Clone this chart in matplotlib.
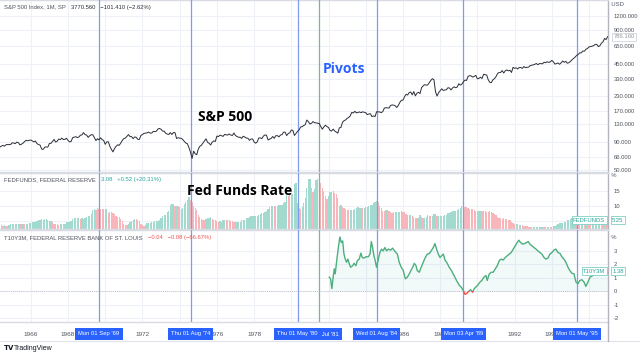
import numpy as np
import matplotlib
matplotlib.use("Agg")
import matplotlib.pyplot as plt
from matplotlib.transforms import blended_transform_factory
from matplotlib.patches import Rectangle

# ---------------- data ----------------
spx_start = 1964.0  # monthly, Jan 1964 .. Jan 1997
spx = [
    77.0, 77.8, 78.98, 79.46, 80.37, 81.69, 83.18, 81.83, 84.18, 84.86, 84.42, 84.75,
    87.56, 87.43, 86.16, 89.11, 87.97, 84.12, 85.25, 87.17, 89.96, 92.42, 91.61, 92.43,
    92.88, 91.22, 89.23, 91.06, 86.13, 84.74, 83.60, 77.10, 76.56, 80.20, 80.45, 80.33,
    86.61, 86.78, 90.20, 94.01, 89.08, 90.64, 94.75, 93.64, 96.71, 93.90, 94.00, 96.47,
    92.24, 89.36, 90.20, 97.59, 98.68, 99.58, 97.74, 98.86, 102.67, 103.41, 108.37, 103.86,
    103.01, 98.13, 101.51, 103.69, 103.46, 97.71, 91.83, 95.51, 93.12, 97.24, 93.81, 92.06,
    85.02, 89.50, 89.63, 81.52, 76.55, 72.72, 78.05, 81.52, 84.21, 83.25, 87.20, 92.15,
    95.88, 96.75, 100.31, 103.95, 99.63, 99.70, 95.58, 99.03, 98.34, 94.23, 93.99, 102.09,
    103.94, 106.57, 107.20, 107.67, 109.53, 107.14, 107.39, 111.09, 110.55, 111.58, 116.67, 118.05,
    116.03, 111.68, 111.52, 106.97, 104.95, 104.26, 108.22, 104.25, 108.43, 108.29, 95.96, 97.55,
    96.57, 96.22, 93.98, 90.31, 87.28, 86.00, 79.31, 72.15, 63.54, 73.90, 69.97, 68.56,
    76.98, 81.59, 83.36, 87.30, 91.15, 95.19, 88.75, 86.88, 83.87, 89.04, 91.24, 90.19,
    100.86, 99.71, 102.77, 101.64, 100.18, 104.28, 103.44, 102.91, 105.24, 102.90, 102.10, 107.46,
    102.03, 99.82, 98.42, 98.44, 96.12, 100.48, 98.85, 96.77, 96.53, 92.34, 94.83, 95.10,
    89.25, 87.04, 89.21, 96.83, 97.24, 95.53, 100.68, 103.29, 102.54, 93.15, 94.70, 96.11,
    99.93, 96.28, 101.59, 101.76, 99.08, 102.91, 103.81, 109.32, 109.32, 101.82, 106.16, 107.94,
    114.16, 113.66, 102.09, 106.29, 111.24, 114.24, 121.67, 122.38, 125.46, 127.47, 140.52, 135.76,
    129.55, 131.27, 136.00, 132.81, 132.59, 131.21, 130.92, 122.79, 116.18, 121.89, 126.35, 122.55,
    120.40, 113.11, 111.96, 116.44, 111.88, 109.61, 107.09, 119.51, 120.42, 133.71, 138.54, 140.64,
    145.30, 148.06, 152.96, 164.42, 162.39, 168.11, 162.56, 164.40, 166.07, 163.55, 166.40, 164.93,
    163.41, 157.06, 159.18, 160.05, 150.55, 153.18, 150.66, 166.68, 166.10, 166.09, 163.58, 167.24,
    179.63, 181.18, 180.66, 179.83, 189.55, 191.85, 190.92, 188.63, 182.08, 189.82, 202.17, 211.28,
    211.78, 226.92, 238.90, 235.52, 247.35, 250.84, 236.12, 252.93, 231.32, 243.98, 249.22, 242.17,
    274.08, 284.20, 291.70, 288.36, 290.10, 304.00, 318.66, 329.80, 321.83, 251.79, 230.30, 247.08,
    257.07, 267.82, 258.89, 261.33, 262.16, 273.50, 272.02, 261.52, 271.91, 278.97, 273.70, 277.72,
    297.47, 288.86, 294.87, 309.64, 320.52, 317.98, 346.08, 351.45, 349.15, 340.36, 345.99, 353.40,
    329.08, 331.89, 339.94, 330.80, 361.23, 358.02, 356.15, 322.56, 306.05, 304.00, 322.22, 330.22,
    343.93, 367.07, 375.22, 375.35, 389.83, 371.16, 387.81, 395.43, 387.86, 392.46, 375.22, 417.09,
    408.79, 412.70, 403.69, 414.95, 415.35, 408.14, 424.21, 414.03, 417.80, 418.68, 431.35, 435.71,
    438.78, 443.38, 451.67, 440.19, 450.19, 450.53, 448.13, 463.56, 458.93, 467.83, 461.79, 466.45,
    481.61, 467.14, 445.77, 450.91, 456.50, 444.27, 458.26, 475.49, 462.69, 472.35, 453.69, 459.27,
    470.42, 487.39, 500.71, 514.71, 533.40, 544.75, 562.06, 561.88, 584.41, 581.50, 605.37, 615.93,
    636.02, 640.43, 645.50, 654.17, 669.12, 670.63, 639.95, 651.99, 687.33, 705.27, 757.02, 740.74,
    786.16,
]

ff_start = 1964.0  # monthly effective fed funds, Jan 1964 .. Jan 1997
fedfunds = [
    3.22, 3.30, 3.37, 3.45, 3.37, 3.50, 3.42, 3.50, 3.45, 3.36, 3.52, 3.85,
    3.90, 3.98, 4.04, 4.09, 4.10, 4.04, 4.09, 4.12, 4.01, 4.08, 4.10, 4.32,
    4.42, 4.60, 4.65, 4.67, 4.90, 5.17, 5.30, 5.53, 5.40, 5.53, 5.76, 5.40,
    4.94, 5.00, 4.53, 4.05, 3.94, 3.98, 3.79, 3.90, 3.99, 3.88, 4.13, 4.51,
    4.61, 4.71, 5.05, 5.76, 6.11, 6.07, 6.02, 6.03, 5.78, 5.91, 5.82, 6.02,
    6.30, 6.61, 6.79, 7.41, 8.67, 8.90, 8.61, 9.19, 9.15, 9.00, 8.85, 8.97,
    8.98, 8.98, 7.76, 8.10, 7.95, 7.61, 7.21, 6.61, 6.29, 6.20, 5.60, 4.90,
    4.14, 3.72, 3.71, 4.16, 4.63, 4.91, 5.31, 5.57, 5.55, 5.20, 4.91, 4.14,
    3.50, 3.29, 3.83, 4.17, 4.27, 4.46, 4.55, 4.80, 4.87, 5.04, 5.06, 5.33,
    5.94, 6.58, 7.09, 7.12, 7.84, 8.49, 10.40, 10.50, 10.78, 10.01, 10.03, 9.95,
    9.65, 8.97, 9.35, 10.51, 11.31, 11.93, 12.92, 12.01, 11.34, 10.06, 9.45, 8.53,
    7.13, 6.24, 5.54, 5.49, 5.22, 5.55, 6.10, 6.14, 6.24, 5.82, 5.22, 5.20,
    4.87, 4.77, 4.84, 4.82, 5.29, 5.48, 5.31, 5.29, 5.25, 5.02, 4.95, 4.65,
    4.61, 4.68, 4.69, 4.73, 5.35, 5.39, 5.42, 5.90, 6.14, 6.47, 6.51, 6.56,
    6.70, 6.78, 6.79, 6.89, 7.36, 7.60, 7.81, 8.04, 8.45, 8.96, 9.76, 10.03,
    10.07, 10.06, 10.09, 10.01, 10.24, 10.29, 10.47, 10.94, 11.43, 13.77, 13.18, 13.78,
    13.82, 14.13, 17.19, 17.61, 10.98, 9.47, 9.03, 9.61, 10.87, 12.81, 15.85, 18.90,
    19.08, 15.93, 14.70, 15.72, 18.52, 19.10, 19.04, 17.82, 15.87, 15.08, 13.31, 12.37,
    13.22, 14.78, 14.68, 14.94, 14.45, 14.15, 12.59, 10.12, 10.31, 9.71, 9.20, 8.95,
    8.68, 8.51, 8.77, 8.80, 8.63, 8.98, 9.37, 9.56, 9.45, 9.48, 9.34, 9.47,
    9.56, 9.59, 9.91, 10.29, 10.32, 11.06, 11.23, 11.64, 11.30, 9.99, 9.43, 8.38,
    8.35, 8.50, 8.58, 8.27, 7.97, 7.53, 7.88, 7.90, 7.92, 7.99, 8.05, 8.27,
    8.14, 7.86, 7.48, 6.99, 6.85, 6.92, 6.56, 6.17, 5.89, 5.85, 6.04, 6.91,
    6.43, 6.10, 6.13, 6.37, 6.85, 6.73, 6.58, 6.73, 7.22, 7.29, 6.69, 6.77,
    6.83, 6.58, 6.58, 6.87, 7.09, 7.51, 7.75, 8.01, 8.19, 8.30, 8.35, 8.76,
    9.12, 9.36, 9.85, 9.84, 9.81, 9.53, 9.24, 8.99, 9.02, 8.84, 8.55, 8.45,
    8.23, 8.24, 8.28, 8.26, 8.18, 8.29, 8.15, 8.13, 8.20, 8.11, 7.81, 7.31,
    6.91, 6.25, 6.12, 5.91, 5.78, 5.90, 5.82, 5.66, 5.45, 5.21, 4.81, 4.43,
    4.03, 4.06, 3.98, 3.73, 3.82, 3.76, 3.25, 3.30, 3.22, 3.10, 3.09, 2.92,
    3.02, 3.03, 3.07, 2.96, 3.00, 3.04, 3.06, 3.03, 3.09, 2.99, 3.02, 2.96,
    3.05, 3.25, 3.34, 3.56, 4.01, 4.25, 4.26, 4.47, 4.73, 4.76, 5.29, 5.45,
    5.53, 5.92, 5.98, 6.05, 6.01, 6.00, 5.85, 5.74, 5.80, 5.76, 5.80, 5.60,
    5.56, 5.22, 5.31, 5.22, 5.24, 5.27, 5.40, 5.22, 5.30, 5.24, 5.31, 5.29,
    5.25,
]

t10_years = [
    1982.04, 1982.11, 1982.18, 1982.26, 1982.31, 1982.36, 1982.44, 1982.53, 1982.61, 1982.69,
    1982.76, 1982.83, 1982.90, 1982.97, 1983.04, 1983.12, 1983.19, 1983.30, 1983.37, 1983.47,
    1983.55, 1983.65, 1983.74, 1983.81, 1983.90, 1984.01, 1984.14, 1984.23, 1984.30, 1984.37,
    1984.44, 1984.51, 1984.58, 1984.67, 1984.76, 1984.85, 1984.94, 1985.03, 1985.12, 1985.21,
    1985.34, 1985.44, 1985.57, 1985.70, 1985.80, 1985.91, 1986.02, 1986.13, 1986.23, 1986.34,
    1986.43, 1986.52, 1986.61, 1986.70, 1986.77, 1986.88, 1986.98, 1987.09, 1987.20, 1987.31,
    1987.42, 1987.52, 1987.63, 1987.72, 1987.81, 1987.90, 1987.99, 1988.08, 1988.17, 1988.26,
    1988.35, 1988.49, 1988.61, 1988.74, 1988.88, 1989.03, 1989.13, 1989.24, 1989.33, 1989.42,
    1989.55, 1989.64, 1989.74, 1989.83, 1989.92, 1990.01, 1990.14, 1990.24, 1990.35, 1990.46,
    1990.53, 1990.64, 1990.75, 1990.85, 1990.96, 1991.07, 1991.18, 1991.28, 1991.39, 1991.50,
    1991.61, 1991.71, 1991.82, 1991.93, 1992.04, 1992.14, 1992.23, 1992.32, 1992.43, 1992.54,
    1992.64, 1992.74, 1992.82, 1992.93, 1993.04, 1993.15, 1993.25, 1993.36, 1993.47, 1993.58,
    1993.68, 1993.79, 1993.90, 1994.01, 1994.11, 1994.22, 1994.33, 1994.44, 1994.54, 1994.65,
    1994.76, 1994.87, 1994.97, 1995.08, 1995.19, 1995.30, 1995.40, 1995.51, 1995.62, 1995.73,
    1995.83, 1995.94, 1996.05, 1996.30, 1996.60, 1997.00,
]
t10_vals = [
    1.05, 0.93, 0.20, 1.18, 1.67, 1.30, 2.28, 3.26, 4.04, 3.63,
    3.75, 2.77, 2.40, 2.16, 2.40, 2.03, 1.79, 1.91, 2.08, 1.91,
    2.28, 2.40, 2.84, 2.52, 2.47, 2.57, 2.57, 2.77, 3.70, 3.26,
    2.65, 2.28, 1.79, 2.33, 2.89, 3.14, 3.01, 3.26, 3.01, 3.14,
    3.06, 3.21, 2.97, 2.77, 2.16, 1.79, 1.54, 0.93, 1.05, 1.30,
    1.54, 1.79, 2.08, 1.91, 1.54, 1.42, 1.79, 2.16, 2.52, 2.77,
    2.82, 3.01, 3.26, 3.55, 3.14, 2.77, 2.52, 2.65, 2.77, 2.33,
    2.16, 1.79, 1.54, 1.18, 0.81, 0.44, 0.32, 0.07, -0.22, -0.17,
    0.02, 0.12, -0.07, 0.20, 0.32, 0.44, 0.69, 0.81, 1.05, 1.18,
    0.81, 1.30, 1.42, 1.42, 1.67, 1.91, 2.28, 2.40, 2.33, 2.52,
    2.65, 2.77, 2.89, 3.14, 3.38, 3.63, 3.80, 3.63, 3.51, 3.55,
    3.63, 3.70, 3.51, 3.38, 3.26, 3.14, 3.01, 2.89, 2.77, 2.52,
    2.40, 2.47, 2.77, 2.89, 3.06, 3.14, 2.89, 2.82, 2.57, 2.40,
    2.16, 1.79, 1.54, 1.35, 1.30, 0.69, 0.56, 0.81, 0.86, 0.69,
    0.37, 0.69, 1.05, 1.25, 1.50, 1.38,
]

pivot_dates = [1969 + 8/12, 1974 + 7/12, 1980 + 4/12, 1984 + 7/12, 1989 + 3/12, 1995 + 4/12]
pivot_labels = ["Mon 01 Sep '69", "Thu 01 Aug '74", "Thu 01 May '80",
                "Wed 01 Aug '84", "Mon 03 Apr '89", "Mon 01 May '95"]
jul81_date = 1981.5
jul81_label = "Wed 01 Jul '81"
year_ticks = list(range(1966, 1997, 2))
# years whose labels are visible (others are fully hidden by the date boxes)
year_labels_shown = [1966, 1968, 1972, 1976, 1978, 1986, 1988, 1992, 1994]
spx_ticks = [50, 66, 90, 130, 170, 230, 330, 450, 650, 900, 1200]
ff_ticks = [5, 10, 15]
ff_tick_labels = ["", "10", "15"]   # the 5 label sits under the FEDFUNDS value tag
t10_ticks = [-2, -1, 0, 1, 2, 3]

# ---------------- figure ----------------
W, H = 640, 356
fig = plt.figure(figsize=(W / 100, H / 100), dpi=100)
fig.patch.set_facecolor("white")
SMALL = "Liberation Sans"

def fx(px):
    return px / W

def fy(py):
    return 1 - py / H

xr = 608
x0, x1 = 1964.345, 1997.02
ax1 = fig.add_axes([0, fy(172), fx(xr), 172 / H])
ax2 = fig.add_axes([0, fy(229), fx(xr), 56 / H])
ax3 = fig.add_axes([0, fy(322), fx(xr), 92 / H])

grid_c = "#eef1f8"
axis_c = "#b2b5be"
lbl_c = "#50535e"
tick_fs = 4.2
pivot_c = "#7e9df0"

for ax in (ax1, ax2, ax3):
    ax.set_xlim(x0, x1)
    ax.set_xticks(year_ticks)
    ax.grid(True, color=grid_c, lw=0.8)
    ax.set_axisbelow(True)
    ax.yaxis.tick_right()
    ax.tick_params(axis="y", length=0, pad=4, labelsize=tick_fs, labelcolor=lbl_c)
    ax.tick_params(axis="x", length=0, labelbottom=False)
    ax.spines["left"].set_visible(False)
    ax.spines["right"].set_color(axis_c)
    ax.spines["right"].set_linewidth(1.0)
    ax.spines["top"].set_color("#d8dbe2")
    ax.spines["bottom"].set_color("#d8dbe2")
    ax.spines["top"].set_linewidth(1.0)
    ax.spines["bottom"].set_linewidth(1.0)
    for d in pivot_dates:
        ax.axvline(d, color=pivot_c, lw=0.9, zorder=3)
    ax.axvline(jul81_date, color="#7fb58a", lw=0.9, zorder=3)

small = dict(fontsize=tick_fs, family=SMALL)

# ---- panel 1: S&P 500 (log) ----
spx_x = spx_start + np.arange(len(spx)) / 12
ax1.plot(spx_x, spx, color="#2a2e39", lw=0.7, zorder=4)
ax1.set_yscale("log")
ax1.set_ylim(48.0, 1676)
ax1.set_yticks(spx_ticks)
ax1.set_yticklabels([f"{v:.3f}" for v in spx_ticks], family=SMALL)
ax1.yaxis.set_minor_locator(matplotlib.ticker.NullLocator())
ax1.text(1.0, 1 - 5 / 172, "  USD", transform=ax1.transAxes, color=lbl_c,
         va="center", ha="left", **small)
ax1.annotate(f"{spx[-1]:.3f}", xy=(1.0, spx[-1]), xycoords=("axes fraction", "data"),
             xytext=(4, 0), textcoords="offset points", color="#9598a1",
             va="center", ha="left", **small,
             bbox=dict(boxstyle="square,pad=0.25", fc="white", ec="#d1d4dc", lw=0.6))

# ---- panel 2: Fed funds columns ----
ff_x = ff_start + np.arange(len(fedfunds)) / 12
ffa = np.array(fedfunds)
up = np.concatenate([[True], ffa[1:] >= ffa[:-1]])
colors = np.where(up, "#a3dacf", "#f8b6bb")
ax2.set_ylim(2.33, 21)
ax2.bar(ff_x, ffa - 2.33, bottom=2.33, width=1 / 12 * 0.8, color=colors, lw=0, zorder=2)
ax2.set_yticks(ff_ticks)
ax2.set_yticklabels(ff_tick_labels, family=SMALL)
ax2.text(1.0, (20 - 2.33) / (21 - 2.33), "  %", transform=ax2.transAxes, color=lbl_c,
         va="center", ha="left", **small)
ax2.annotate(f"{fedfunds[-1]:.2f}", xy=(1.0, fedfunds[-1]), xycoords=("axes fraction", "data"),
             xytext=(3, 0), textcoords="offset points", color="#26a69a",
             va="center", ha="left", **small,
             bbox=dict(boxstyle="square,pad=0.25", fc="white", ec="#7fd0c4", lw=0.6))
ax2.annotate("FEDFUNDS", xy=(1.0, fedfunds[-1]), xycoords=("axes fraction", "data"),
             xytext=(-2, 0), textcoords="offset points", color="#26a69a",
             va="center", ha="right", zorder=6, **small,
             bbox=dict(boxstyle="square,pad=0.25", fc="white", ec="#7fd0c4", lw=0.6))

# ---- panel 3: T10Y3M ----
tx = np.array(t10_years)
tv = np.array(t10_vals)
green = "#4caf7d"
red = "#ef5350"
ax3.set_ylim(-2.28, 4.56)
ax3.fill_between(tx, tv, 0, where=tv >= 0, interpolate=True, color="#26a69a", alpha=0.06, lw=0)
ax3.fill_between(tx, tv, 0, where=tv < 0, interpolate=True, color=red, alpha=0.08, lw=0)
lg, = ax3.plot(tx, tv, color=green, lw=1.0, zorder=4)
lr, = ax3.plot(tx, tv, color=red, lw=1.0, zorder=4)
lg.set_clip_path(Rectangle((1960, 0), 50, 10, transform=ax3.transData))
lr.set_clip_path(Rectangle((1960, -10), 50, 10, transform=ax3.transData))
ax3.axhline(0, color="#b2b5be", lw=0.6, ls=(0, (1, 1.5)), zorder=3)
ax3.set_yticks(t10_ticks)
ax3.set_yticklabels([str(v) for v in t10_ticks], family=SMALL)
ax3.text(1.0, (4 + 2.28) / (4.56 + 2.28), "  %", transform=ax3.transAxes, color=lbl_c,
         va="center", ha="left", **small)
ax3.annotate(f"{t10_vals[-1]:.2f}", xy=(1.0, t10_vals[-1]), xycoords=("axes fraction", "data"),
             xytext=(3, 1), textcoords="offset points", color="#26a69a",
             va="center", ha="left", **small,
             bbox=dict(boxstyle="square,pad=0.25", fc="white", ec="#7fd0c4", lw=0.6))
ax3.annotate("T10Y3M", xy=(1.0, t10_vals[-1]), xycoords=("axes fraction", "data"),
             xytext=(-2, 1), textcoords="offset points", color="#26a69a",
             va="center", ha="right", zorder=6, **small,
             bbox=dict(boxstyle="square,pad=0.25", fc="white", ec="#7fd0c4", lw=0.6))

# ---- x axis labels & pivot boxes ----
trans = blended_transform_factory(ax3.transData, fig.transFigure)
for yv in year_labels_shown:
    ax3.text(yv, fy(334), str(yv), transform=trans, fontsize=tick_fs + 0.4, family=SMALL,
             color=lbl_c, ha="center", va="center", clip_on=False)
box_kw = dict(boxstyle="square,pad=0.55", fc="#2962ff", ec="#2962ff", lw=0)
ax3.text(jul81_date, fy(334), jul81_label, transform=trans, fontsize=tick_fs,
         family=SMALL, color="white", ha="center", va="center", bbox=box_kw, zorder=10,
         clip_on=False)
for d, lab in zip(pivot_dates, pivot_labels):
    ax3.text(d, fy(334), lab, transform=trans, fontsize=tick_fs, family=SMALL,
             color="white", ha="center", va="center", bbox=box_kw, zorder=11, clip_on=False)

fig.add_artist(plt.Line2D([0, 1], [fy(341), fy(341)], transform=fig.transFigure,
                          color="#e0e3eb", lw=0.8))
fig.add_artist(plt.Line2D([fx(xr), fx(xr)], [fy(322), fy(341)], transform=fig.transFigure,
                          color=axis_c, lw=1.0))

# ---- headers ----
hdr = dict(fontsize=4.2, family=SMALL, va="center")
t = fig.text(fx(4), fy(7), "S&P 500 Index, 1M, SP", color=lbl_c, **hdr)
plt.annotate("3770.560   \u2212101.410 (\u22122.62%)", xy=(1, 0.5), xycoords=t,
             xytext=(4, 0), textcoords="offset points", color="#2a2e39",
             annotation_clip=False, **hdr)
t = fig.text(fx(4), fy(180), "FEDFUNDS, FEDERAL RESERVE", color=lbl_c, **hdr)
plt.annotate("3.08   +0.52 (+20.31%)", xy=(1, 0.5), xycoords=t, xytext=(4, 0),
             textcoords="offset points", color="#26a69a", annotation_clip=False, **hdr)
t = fig.text(fx(4), fy(238), "T10Y3M, FEDERAL RESERVE BANK OF ST. LOUIS", color=lbl_c, **hdr)
plt.annotate("\u22120.04   \u22120.08 (\u221266.67%)", xy=(1, 0.5), xycoords=t, xytext=(4, 0),
             textcoords="offset points", color=red, annotation_clip=False, **hdr)

# ---- annotations ----
fig.text(fx(225), fy(117), "S&P 500", fontsize=10, fontweight="bold", family="Open Sans",
         color="black", ha="center", va="center")
fig.text(fx(240), fy(191), "Fed Funds Rate", fontsize=10, fontweight="bold", family="Open Sans",
         color="black", ha="center", va="center")
fig.text(fx(344), fy(69), "Pivots", fontsize=10, fontweight="bold", family="Open Sans",
         color="#2962ff", ha="center", va="center")

fig.text(fx(4), fy(348), "TV", fontsize=5, fontweight="bold", color="#131722", va="center")
fig.text(fx(14), fy(348), "TradingView", fontsize=5, family=SMALL, color="#131722", va="center")

fig.savefig("out.png", dpi=100, facecolor="white")
